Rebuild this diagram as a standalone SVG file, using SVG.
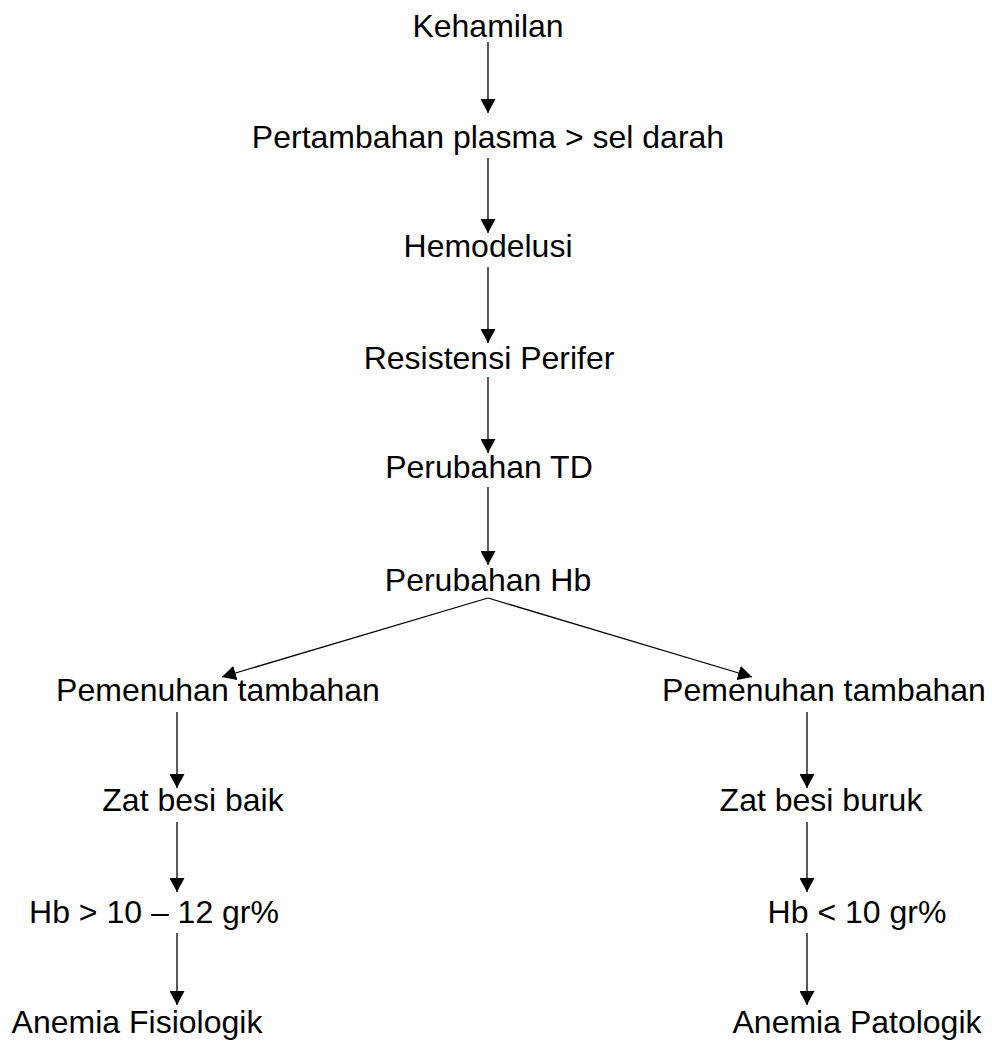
<svg xmlns="http://www.w3.org/2000/svg" width="992" height="1042" viewBox="0 0 992 1042">
<defs>
<marker id="ah" markerUnits="userSpaceOnUse" markerWidth="14" markerHeight="15" refX="14" refY="7.5" orient="auto">
<path d="M0,0 L14,7.5 L0,15 Z" fill="#000"/>
</marker>
<style>
text{font-family:"Liberation Sans",Arial,sans-serif;font-size:32px;fill:#000;text-anchor:middle}
.c line{stroke:#000;stroke-width:1.3;marker-end:url(#ah)}
</style>
</defs>
<rect width="992" height="1042" fill="#fff"/>
<g id="n1"><text x="488" y="37">Kehamilan</text></g>
<g id="n2"><text x="488" y="148">Pertambahan plasma &gt; sel darah</text></g>
<g id="n3"><text x="488" y="257">Hemodelusi</text></g>
<g id="n4"><text x="489" y="369">Resistensi Perifer</text></g>
<g id="n5"><text x="489" y="478">Perubahan TD</text></g>
<g id="n6"><text x="488" y="591">Perubahan Hb</text></g>
<g id="n7"><text x="218" y="701">Pemenuhan tambahan</text></g>
<g id="n8"><text x="824" y="701">Pemenuhan tambahan</text></g>
<g id="n9"><text x="193" y="811">Zat besi baik</text></g>
<g id="n10"><text x="821" y="811">Zat besi buruk</text></g>
<g id="n11"><text x="154" y="923">Hb &gt; 10 – 12 gr%</text></g>
<g id="n12"><text x="857" y="923">Hb &lt; 10 gr%</text></g>
<g id="n13"><text x="137" y="1033">Anemia Fisiologik</text></g>
<g id="n14"><text x="857" y="1033">Anemia Patologik</text></g>
<g id="connectors" class="c">
<line x1="488" y1="42" x2="488" y2="113"/>
<line x1="488" y1="158" x2="488" y2="233"/>
<line x1="488" y1="267" x2="488" y2="343"/>
<line x1="488" y1="377" x2="488" y2="453"/>
<line x1="488" y1="487" x2="488" y2="565"/>
<line x1="488" y1="598" x2="222" y2="677"/>
<line x1="488" y1="598" x2="752" y2="677"/>
<line x1="177" y1="712" x2="177" y2="788"/>
<line x1="177" y1="822" x2="177" y2="892"/>
<line x1="177" y1="933" x2="177" y2="1005"/>
<line x1="807" y1="712" x2="807" y2="788"/>
<line x1="807" y1="822" x2="807" y2="892"/>
<line x1="807" y1="933" x2="807" y2="1005"/>
</g>
</svg>
